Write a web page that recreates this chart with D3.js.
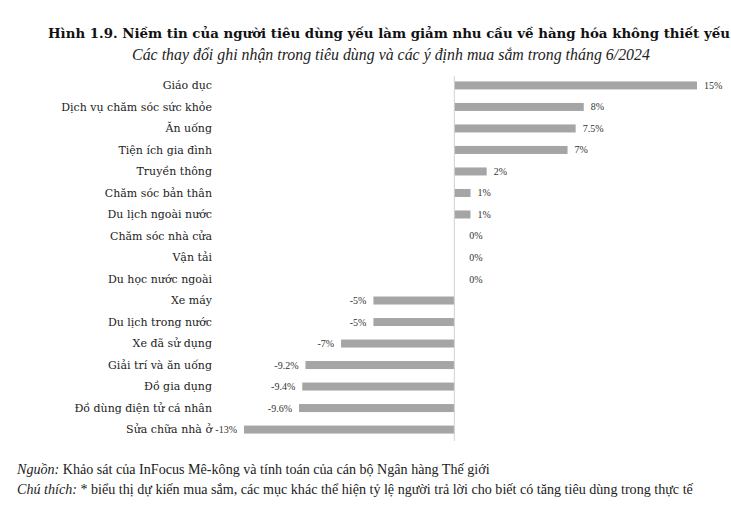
<!DOCTYPE html>
<html><head><meta charset="utf-8">
<script src="https://cdn.jsdelivr.net/npm/d3@7"></script>
<style>body{margin:0;background:#fff}svg{display:block}</style>
</head><body><svg id="c" width="731" height="507"></svg>
<script>
const categories = ["Giáo dục","Dịch vụ chăm sóc sức khỏe","Ăn uống","Tiện ích gia đình","Truyền thông","Chăm sóc bản thân","Du lịch ngoài nước","Chăm sóc nhà cửa","Vận tải","Du học nước ngoài","Xe máy","Du lịch trong nước","Xe đã sử dụng","Giải trí và ăn uống","Đồ gia dụng","Đồ dùng điện tử cá nhân","Sửa chữa nhà ở"];
const values = [15,8,7.5,7,2,1,1,0,0,0,-5,-5,-7,-9.2,-9.4,-9.6,-13];
const valueLabels = ["15%","8%","7.5%","7%","2%","1%","1%","0%","0%","0%","-5%","-5%","-7%","-9.2%","-9.4%","-9.6%","-13%"];
const title = "Hình 1.9. Niềm tin của người tiêu dùng yếu làm giảm nhu cầu về hàng hóa không thiết yếu";
const subtitle = "Các thay đổi ghi nhận trong tiêu dùng và các ý định mua sắm trong tháng 6/2024";

const svg = d3.select("#c");
const serif = "'Liberation Serif','DejaVu Serif',serif";
const dserif = "'DejaVu Serif',serif";
const data = categories.map((c,i)=>({c, v:values[i], l:valueLabels[i]}));

const x = d3.scaleLinear().domain([-13,15]).range([244,697]);
const y = d3.scaleBand().domain(categories).range([75,440]).paddingInner(0.63).paddingOuter(0.3);

svg.append("text").attr("x",48).attr("y",38).attr("font-family",dserif).attr("font-weight","bold")
  .attr("font-size",13.35).attr("fill","#111").text(title);
svg.append("text").attr("x",391).attr("y",60).attr("text-anchor","middle").attr("font-family",serif)
  .attr("font-style","italic").attr("font-size",15.9).attr("fill","#222").text(subtitle);

svg.append("g").selectAll("rect").data(data).join("rect")
  .attr("x",d=>x(Math.min(0,d.v))).attr("y",d=>y(d.c)+y.bandwidth()/2-4)
  .attr("width",d=>Math.abs(x(d.v)-x(0))).attr("height",8).attr("fill","#a5a5a5");

svg.append("line").attr("x1",x(0)).attr("x2",x(0)).attr("y1",76).attr("y2",441)
  .attr("stroke","#d0d0d0").attr("stroke-width",1);

svg.append("g").selectAll("text").data(data).join("text")
  .attr("x",212).attr("y",d=>y(d.c)+y.bandwidth()/2).attr("dy","0.35em").attr("text-anchor","end")
  .attr("font-family",dserif).attr("font-size",11).attr("fill","#222").text(d=>d.c);

svg.append("g").selectAll("text").data(data).join("text")
  .attr("x",d=>d.v<0 ? x(d.v)-7 : Math.max(x(d.v)+7, x(0)+15))
  .attr("y",d=>y(d.c)+y.bandwidth()/2).attr("dy","0.35em")
  .attr("text-anchor",d=>d.v<0?"end":"start")
  .attr("font-family",serif).attr("font-size",10).attr("fill","#333").text(d=>d.l);

const f1 = svg.append("text").attr("x",17).attr("y",474).attr("font-family",serif).attr("font-size",14.1).attr("fill","#222");
f1.append("tspan").attr("font-style","italic").text("Nguồn:");
f1.append("tspan").text(" Khảo sát của InFocus Mê-kông và tính toán của cán bộ Ngân hàng Thế giới");
const f2 = svg.append("text").attr("x",17).attr("y",494).attr("font-family",serif).attr("font-size",14.1).attr("fill","#222");
f2.append("tspan").attr("font-style","italic").text("Chú thích:");
f2.append("tspan").text(" * biểu thị dự kiến mua sắm, các mục khác thể hiện tỷ lệ người trả lời cho biết có tăng tiêu dùng trong thực tế");
</script></body></html>
